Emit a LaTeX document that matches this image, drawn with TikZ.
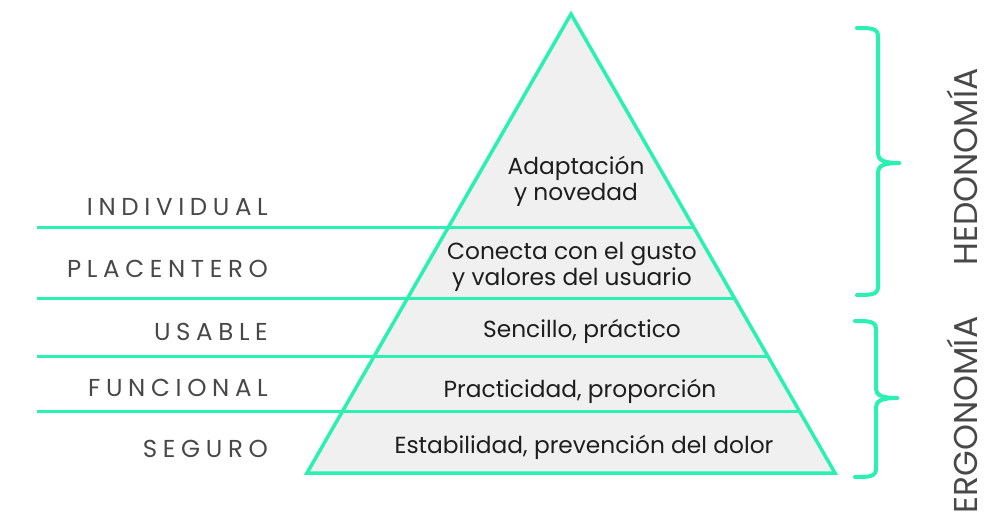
\documentclass[tikz,border=0pt]{standalone}
\usepackage{fontspec}
\setmainfont{Poppins}
\newfontfamily\labfont[LetterSpace=23]{Poppins}
\newfontfamily\pyrfont{Poppins}
\definecolor{mint}{HTML}{2AF0B2}
\definecolor{pyrfill}{HTML}{F0F0F0}
\definecolor{labgray}{HTML}{484848}
\definecolor{txtdark}{HTML}{1E1E1E}
\tikzset{
  pyrline/.style={draw=mint, line width=3.5pt, line join=miter, fill=pyrfill},
  levelline/.style={draw=mint, line width=3pt},
  bracepath/.style={draw=mint, line width=4pt, line cap=round},
  lablbl/.style={anchor=base east, inner sep=0pt, text=labgray, font=\labfont\fontsize{24.5}{24.5}\selectfont},
  pyrtxt/.style={anchor=base, inner sep=0pt, text=txtdark, align=center, font=\pyrfont\fontsize{23.3}{26}\selectfont},
  sidetxt/.style={inner sep=0pt, text=labgray, rotate=90, font=\pyrfont\fontsize{33}{33}\selectfont}
}
\begin{document}
\begin{tikzpicture}[x=1pt,y=-1pt]
\useasboundingbox (0,0) rectangle (986,528);
% pyramid
\coordinate (apex) at (571,14);
\coordinate (bl) at (307,473);
\coordinate (br) at (835,473);
\draw[pyrline] (apex) -- (br) -- (bl) -- cycle;
% level lines
\coordinate (l1a) at (37,227); \coordinate (l1b) at (694,227);
\coordinate (l2a) at (37,298); \coordinate (l2b) at (736,298);
\coordinate (l3a) at (37,356); \coordinate (l3b) at (769,356);
\coordinate (l4a) at (37,411); \coordinate (l4b) at (801,411);
\draw[levelline] (l1a) -- (l1b);
\draw[levelline] (l2a) -- (l2b);
\draw[levelline] (l3a) -- (l3b);
\draw[levelline] (l4a) -- (l4b);
% left labels
\node[lablbl] (individual) at (268,215) {INDIVIDUAL};
\node[lablbl] (placentero) at (268,277) {PLACENTERO};
\node[lablbl] (usable) at (268,340) {USABLE};
\node[lablbl] (funcional) at (268,396) {FUNCIONAL};
\node[lablbl] (seguro) at (268,457) {SEGURO};
% pyramid texts
\node[pyrtxt] (t1) at (576,200) {Adaptación\\y novedad};
\node[pyrtxt] (t2) at (572,285) {Conecta con el gusto\\y valores del usuario};
\node[pyrtxt] (t3) at (582,337) {Sencillo, práctico};
\node[pyrtxt] (t4) at (580,397) {Practicidad, proporción};
\node[pyrtxt] (t5) at (584,453) {Estabilidad, prevención del dolor};
% braces
\draw[bracepath] (857,28) .. controls (870,28) and (878,28) .. (878,36) -- (878,154)
  .. controls (878,160) and (884,163) .. (899,163);
\draw[bracepath] (899,163) .. controls (884,163) and (878,166) .. (878,172) -- (878,287)
  .. controls (878,295) and (870,295) .. (857,295);
\draw[bracepath] (855,321) .. controls (868,321) and (876,321) .. (876,329) -- (876,389)
  .. controls (876,395) and (882,398) .. (897,398);
\draw[bracepath] (897,398) .. controls (882,398) and (876,401) .. (876,407) -- (876,469)
  .. controls (876,477) and (868,477) .. (855,477);
% side labels
\node[sidetxt] (hedo) at (962,167) {HEDONOMÍA};
\node[sidetxt] (ergo) at (962,415) {ERGONOMÍA};
\end{tikzpicture}
\end{document}
